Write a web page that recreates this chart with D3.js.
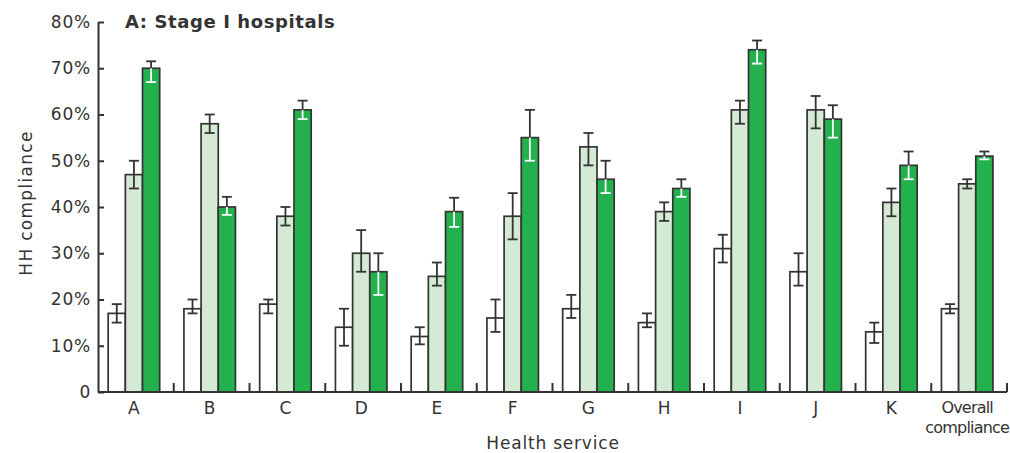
<!DOCTYPE html>
<html>
<head>
<meta charset="utf-8">
<script src="https://cdn.jsdelivr.net/npm/d3@7"></script>
<style>
  body { margin: 0; background: #fff; }
  text { font-family: "DejaVu Sans", Arial, sans-serif; fill: #333; }
</style>
</head>
<body>
<div id="chart-area"></div>
<script>
// categories and series values (percent)
var categories = ["A", "B", "C", "D", "E", "F", "G", "H", "I", "J", "K", "Overall compliance"];
var seriesKeys = ["first", "second", "third"];

var firstValues = [17, 18, 19, 14, 12, 16, 18, 15, 31, 26, 13, 18];
var firstLow    = [15, 17, 17, 10, 10.3, 13, 16, 14, 28, 23, 10.6, 17];
var firstHigh   = [19, 20, 20, 18, 14, 20, 21, 17, 34, 30, 15, 19];

var secondValues = [47, 58, 38, 30, 25, 38, 53, 39, 61, 61, 41, 45];
var secondLow    = [44, 56, 36, 26, 23, 33, 49, 37, 58, 57, 38, 44];
var secondHigh   = [50, 60, 40, 35, 28, 43, 56, 41, 63, 64, 44, 46];

var thirdValues = [70, 40, 61, 26, 39, 55, 46, 44, 74, 59, 49, 51];
var thirdLow    = [67, 38.3, 59, 21, 35.7, 50, 43, 42.2, 71, 55, 46, 50.3];
var thirdHigh   = [71.5, 42.2, 63, 30, 42, 61, 50, 46, 76, 62, 52, 52];

var yTicks = [0, 10, 20, 30, 40, 50, 60, 70, 80];

var fills = { first: "#ffffff", second: "#d5ead4", third: "#22b14c" };

var width = 1010, height = 453;

var svg = d3.select("#chart-area")
    .append("svg")
    .attr("width", width)
    .attr("height", height)
    .style("display", "block");

var x0 = d3.scaleBand().domain(categories).range([98, 1007])
    .paddingInner(0.32).paddingOuter(0.16).align(0.42);
var x1 = d3.scaleBand().domain(seriesKeys).range([0, x0.bandwidth()]);
var y = d3.scaleLinear().domain([0, 80]).range([392, 22]);

var rows = categories.map((c, i) => ({
    cat: c,
    bars: [
        { key: "first", v: firstValues[i], lo: firstLow[i], hi: firstHigh[i] },
        { key: "second", v: secondValues[i], lo: secondLow[i], hi: secondHigh[i] },
        { key: "third", v: thirdValues[i], lo: thirdLow[i], hi: thirdHigh[i] }
    ]
}));

// bars
var group = svg.selectAll(".group")
    .data(rows)
    .enter()
    .append("g")
    .attr("class", "group")
    .attr("transform", d => `translate(${x0(d.cat)},0)`);

group.selectAll("rect")
    .data(d => d.bars)
    .enter()
    .append("rect")
    .attr("x", d => x1(d.key))
    .attr("y", d => y(d.v))
    .attr("width", x1.bandwidth())
    .attr("height", d => y(0) - y(d.v))
    .attr("fill", d => fills[d.key])
    .attr("stroke", "#333")
    .attr("stroke-width", 1.7);

// error bars: part inside the dark bar is white
var capW = 10;
var err = group.selectAll(".err")
    .data(d => d.bars)
    .enter()
    .append("g")
    .attr("class", "err")
    .attr("transform", d => `translate(${x1(d.key) + x1.bandwidth() / 2},0)`);

err.append("line")
    .attr("y1", d => y(d.v)).attr("y2", d => y(d.hi))
    .attr("stroke", "#333").attr("stroke-width", 1.8);
err.append("line")
    .attr("x1", -capW / 2).attr("x2", capW / 2)
    .attr("y1", d => y(d.hi)).attr("y2", d => y(d.hi))
    .attr("stroke", "#333").attr("stroke-width", 1.8);
err.append("line")
    .attr("y1", d => y(d.v)).attr("y2", d => y(d.lo))
    .attr("stroke", d => d.key === "third" ? "#fff" : "#333").attr("stroke-width", 1.8);
err.append("line")
    .attr("x1", -capW / 2).attr("x2", capW / 2)
    .attr("y1", d => y(d.lo)).attr("y2", d => y(d.lo))
    .attr("stroke", d => d.key === "third" ? "#fff" : "#333").attr("stroke-width", 1.8);

// y axis, ticks pointing inward
var yAxis = d3.axisLeft(y)
    .tickValues(yTicks)
    .tickSizeInner(-6)
    .tickSizeOuter(0)
    .tickPadding(7)
    .tickFormat(d => d === 0 ? "0" : d + "%");

var yG = svg.append("g")
    .attr("transform", "translate(98,0)")
    .call(yAxis);
yG.selectAll("path, line").attr("stroke", "#333").attr("stroke-width", 2);
yG.selectAll("text")
    .attr("font-size", "17px")
    .attr("letter-spacing", "0.8px")
    .style("font-family", "'DejaVu Sans', Arial, sans-serif")
    .attr("fill", "#333");

// x axis: labels from the band scale, ticks at band boundaries
var xAxis = d3.axisBottom(x0).tickSize(0).tickPadding(10);
var xG = svg.append("g")
    .attr("transform", "translate(0,392)")
    .call(xAxis);
xG.select(".domain").remove();
xG.selectAll("text")
    .attr("font-size", "17px")
    .style("font-family", "'DejaVu Sans', Arial, sans-serif")
    .attr("fill", "#333");

xG.selectAll(".tick text")
    .filter(d => d === "Overall compliance")
    .text(null)
    .attr("font-size", "16px")
    .attr("letter-spacing", "-0.8px")
    .selectAll("tspan")
    .data(["Overall", "compliance"])
    .enter()
    .append("tspan")
    .attr("x", 0)
    .attr("dy", (d, i) => i === 0 ? "0.71em" : "1.25em")
    .text(d => d);

svg.append("line")
    .attr("x1", 98).attr("x2", 1007)
    .attr("y1", y(0)).attr("y2", y(0))
    .attr("stroke", "#333").attr("stroke-width", 2);

var step = x0.step();
svg.selectAll(".bound")
    .data(d3.range(1, categories.length + 1))
    .enter()
    .append("line")
    .attr("class", "bound")
    .attr("x1", i => 98 + i * step).attr("x2", i => 98 + i * step)
    .attr("y1", y(0)).attr("y2", y(0) - 9)
    .attr("stroke", "#333").attr("stroke-width", 2);

// labels
svg.append("text")
    .attr("x", 553)
    .attr("y", 449)
    .attr("text-anchor", "middle")
    .attr("font-size", "17px")
    .attr("letter-spacing", "0.8px")
    .text("Health service");

svg.append("text")
    .attr("transform", "translate(32,203) rotate(-90)")
    .attr("text-anchor", "middle")
    .attr("font-size", "17px")
    .attr("letter-spacing", "1.3px")
    .text("HH compliance");

svg.append("text")
    .attr("x", 125)
    .attr("y", 28)
    .attr("font-size", "18px")
    .attr("font-weight", "bold")
    .attr("letter-spacing", "0.6px")
    .text("A: Stage I hospitals");
</script>
</body>
</html>
